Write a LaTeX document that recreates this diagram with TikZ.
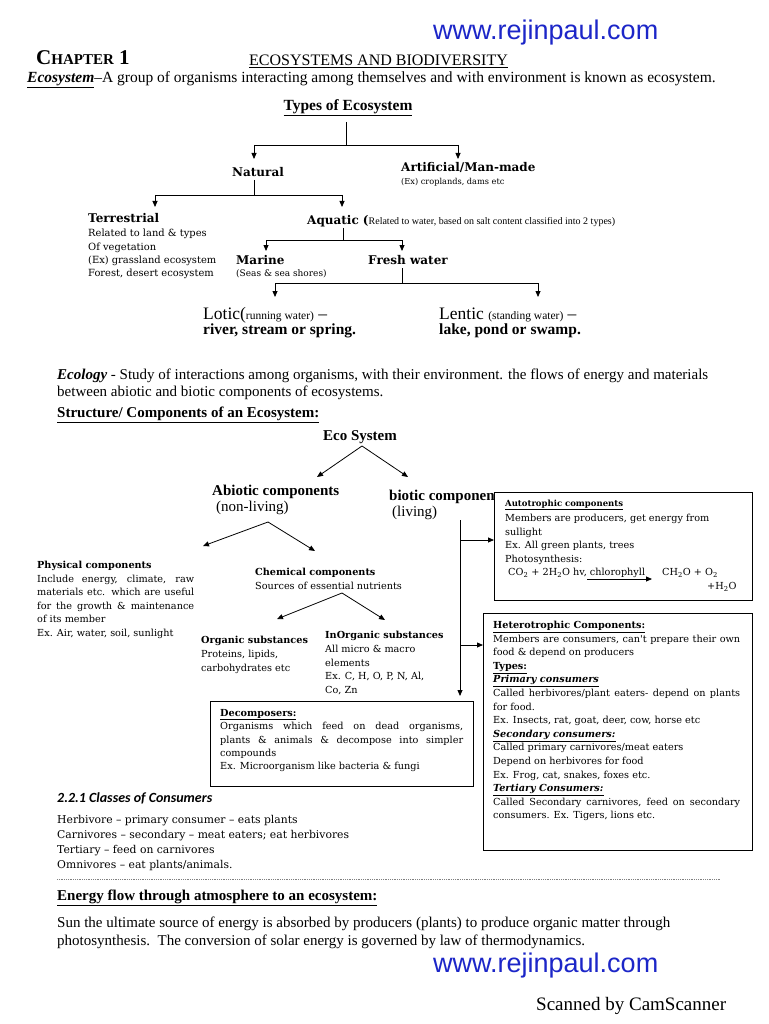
\documentclass[tikz,border=0pt]{standalone}
\usepackage{fontspec}
\setmainfont{Liberation Serif}
\newfontfamily\dvs{DejaVu Serif}
\newfontfamily\lsans{Liberation Sans}
\newfontfamily\carl{Carlito}
\usetikzlibrary{arrows.meta}
\definecolor{urlblue}{RGB}{28,38,200}
\newcommand\fsz[1]{\fontsize{#1}{#1}\selectfont}
\newcommand\fsl[2]{\fontsize{#1}{#2}\selectfont}
\tikzset{
  tx/.style={inner sep=0pt, anchor=west},
  txl/.style={inner sep=0pt, anchor=north west, align=left},
  ln/.style={line width=0.8pt},
  arr/.style={line width=0.8pt, -{Triangle[length=6pt,width=5pt]}},
  bx/.style={draw, line width=0.9pt, fill=white, anchor=north west, inner sep=0pt},
  lbl/.style={tx, font=\dvs\bfseries\fsz{12}},
}
\begin{document}
\begin{tikzpicture}[x=1pt,y=-1pt]
\fill[white] (0,0) rectangle (768,1024);
\useasboundingbox (0,0) rectangle (768,1024);

% header
\node[tx, font=\lsans\fsz{27}, text=urlblue] (url1) at (433,33) {www.rejinpaul.com};
\node[tx, font=\bfseries\fsz{21}] (chap) at (36,58) {C{\fsz{15}HAPTER} 1};
\node[tx, font=\fsz{16}] (ttl) at (249,61) {\underline{ECOSYSTEMS AND BIODIVERSITY}};
\node[tx, font=\fsz{15.5}] (def) at (27,80) {\underline{\textbf{\textit{Ecosystem}}}–A group of organisms interacting among themselves and with environment is known as ecosystem.};

% types of ecosystem tree
\node[inner sep=0pt, font=\bfseries\fsz{15.5}] (types) at (348,108) {\underline{Types of Ecosystem}};
\coordinate (a0) at (346,122); \coordinate (a1) at (346,145);
\coordinate (aL) at (254,145); \coordinate (aR) at (458,145);
\coordinate (aLt) at (254,159); \coordinate (aRt) at (458,159);
\draw[ln] (a0) -- (a1);
\draw[ln] (aL) -- (aR);
\draw[arr] (aL) -- (aLt);
\draw[arr] (aR) -- (aRt);

\node[lbl] (nat) at (232,172) {Natural};
\node[lbl] (art) at (401,167) {Artificial/Man-made};
\node[tx, font=\dvs\fsz{8.2}] (artd) at (401,182) {(Ex) croplands, dams etc};

\coordinate (b0) at (254,180); \coordinate (b1) at (254,195);
\coordinate (bL) at (155,195); \coordinate (bR) at (342,195);
\coordinate (bLt) at (155,207); \coordinate (bRt) at (342,207);
\draw[ln] (b0) -- (b1);
\draw[ln] (bL) -- (bR);
\draw[arr] (bL) -- (bLt);
\draw[arr] (bR) -- (bRt);

\node[lbl] (ter) at (88,218) {Terrestrial};
\node[txl, font=\dvs\fsl{9.9}{13.4}] (terd) at (88,229) {Related to land \& types\\Of vegetation\\(Ex) grassland ecosystem\\Forest, desert ecosystem};
\node[lbl] (aq) at (307,221) {Aquatic ({\rmfamily\mdseries\fsz{10}Related to water, based on salt content classified into 2 types)}};

\coordinate (c0) at (343,228); \coordinate (c1) at (343,240);
\coordinate (cL) at (266,240); \coordinate (cR) at (402,240);
\coordinate (cLt) at (266,251); \coordinate (cRt) at (402,251);
\draw[ln] (c0) -- (c1);
\draw[ln] (cL) -- (cR);
\draw[arr] (cL) -- (cLt);
\draw[arr] (cR) -- (cRt);

\node[lbl] (mar) at (236,260) {Marine};
\node[tx, font=\dvs\fsz{9}] (mard) at (236,274) {(Seas \& sea shores)};
\node[lbl] (fw) at (368,260) {Fresh water};

\coordinate (d0) at (402,268); \coordinate (d1) at (402,283);
\coordinate (dL) at (275,283); \coordinate (dR) at (538,283);
\coordinate (dLt) at (275,297); \coordinate (dRt) at (538,297);
\draw[ln] (d0) -- (d1);
\draw[ln] (dL) -- (dR);
\draw[arr] (dL) -- (dLt);
\draw[arr] (dR) -- (dRt);

\node[tx, font=\fsz{17.5}] (lot) at (203,315) {Lotic({\fsz{11.5}running water)} –};
\node[tx, font=\bfseries\fsz{15.5}] (lotb) at (203,331) {river, stream or spring.};
\node[tx, font=\fsz{17.5}] (len) at (439,315) {Lentic {\fsz{11.5}(standing water)} –};
\node[tx, font=\bfseries\fsz{15.5}] (lenb) at (439,331) {lake, pond or swamp.};

% ecology
\node[txl, font=\fsl{15}{17}] (ecol) at (57,369) {\textbf{\textit{Ecology}} - Study of interactions among organisms, with their environment. the flows of energy and materials\\between abiotic and biotic components of ecosystems.};
\node[tx, font=\bfseries\fsz{15}] (struct) at (57,415) {\underline{Structure/ Components of an Ecosystem:}};

% structure diagram
\node[inner sep=0pt, font=\bfseries\fsz{15}] (eco) at (360,437) {Eco System};
\coordinate (e0) at (362,446); \coordinate (abT) at (317,477); \coordinate (biT) at (408,477);
\draw[arr] (e0) -- (abT);
\draw[arr] (e0) -- (biT);

\node[tx, font=\bfseries\fsz{15}] (abio) at (212,492) {Abiotic components};
\node[tx, font=\fsz{15}] (abion) at (216,508) {(non-living)};
\node[tx, font=\bfseries\fsz{15}] (bio) at (389,497) {biotic componen};
\node[tx, font=\fsz{15}] (bion) at (392,513) {(living)};

\coordinate (f0) at (268,522); \coordinate (phT) at (203,546); \coordinate (chT) at (315,551);
\draw[arr] (f0) -- (phT);
\draw[arr] (f0) -- (chT);

\node[txl, font=\dvs\fsl{9.7}{13.6}] (phys) at (37,561) {\textbf{Physical components}\\\makebox[157pt][s]{Include energy, climate, raw}\\\makebox[157pt][s]{materials etc. which are useful}\\\makebox[157pt][s]{for the growth \& maintenance}\\of its member\\Ex. Air, water, soil, sunlight};
\node[txl, font=\dvs\fsl{9.7}{13.6}] (chem) at (255,568) {\textbf{Chemical components}\\Sources of essential nutrients};

\coordinate (g0) at (342,593); \coordinate (orT) at (277,619); \coordinate (inT) at (385,620);
\draw[arr] (g0) -- (orT);
\draw[arr] (g0) -- (inT);

\node[txl, font=\dvs\fsl{9.7}{14}] (org) at (201,636) {\textbf{Organic substances}\\Proteins, lipids,\\carbohydrates etc};
\node[txl, font=\dvs\fsl{9.7}{13.8}] (inorg) at (325,631) {\textbf{InOrganic substances}\\All micro \& macro\\elements\\Ex. C, H, O, P, N, Al,\\Co, Zn};

% boxes
\node[bx, minimum width=258pt, minimum height=108pt] (auto) at (494,492) {};
\node[tx, font=\dvs\bfseries\fsz{8.5}] (autoh) at (505,505) {\underline{Autotrophic components}};
\node[txl, font=\dvs\fsl{9.7}{13.5}] (autot) at (505,514) {Members are producers, get energy from\\sullight\\Ex. All green plants, trees\\Photosynthesis:};
\node[tx, font=\dvs\fsz{9.7}] (eq1) at (508,573) {CO\textsubscript{2} + 2H\textsubscript{2}O hv, chlorophyll};
\coordinate (q0) at (587,579); \coordinate (q1) at (652,579);
\draw[arr] (q0) -- (q1);
\node[tx, font=\dvs\fsz{9.7}] (eq2) at (662,573) {CH\textsubscript{2}O + O\textsubscript{2}};
\node[tx, font=\dvs\fsz{9.7}] (eq3) at (707,587) {+H\textsubscript{2}O};

\node[bx, minimum width=269pt, minimum height=237pt] (het) at (483,613) {};
\node[txl, font=\dvs\fsl{9.7}{13.6}] (hett) at (493,621) {\textbf{\underline{Heterotrophic Components:}}\\
\makebox[247pt][s]{Members are consumers, can't prepare their own}\\
food \& depend on producers\\
\textbf{\underline{Types:}}\\
\textbf{\textit{\underline{Primary consumers}}}\\
\makebox[247pt][s]{Called herbivores/plant eaters- depend on plants}\\
for food.\\
Ex. Insects, rat, goat, deer, cow, horse etc\\
\textbf{\textit{\underline{Secondary consumers:}}}\\
Called primary carnivores/meat eaters\\
Depend on herbivores for food\\
Ex. Frog, cat, snakes, foxes etc.\\
\textbf{\textit{\underline{Tertiary Consumers:}}}\\
\makebox[247pt][s]{Called Secondary carnivores, feed on secondary}\\
consumers. Ex. Tigers, lions etc.};

\node[bx, minimum width=263pt, minimum height=85pt] (dec) at (210,701) {};
\node[txl, font=\dvs\fsl{9.7}{13.4}] (dect) at (220,709) {\textbf{\underline{Decomposers:}}\\
\makebox[243pt][s]{Organisms which feed on dead organisms,}\\
\makebox[243pt][s]{plants \& animals \& decompose into simpler}\\
compounds\\
Ex. Microorganism like bacteria \& fungi};

% biotic connectors
\coordinate (v0) at (460,520); \coordinate (v1) at (460,540); \coordinate (v2) at (460,645);
\draw[arr, shorten >=5pt] (v0) -- (v0 |- dec.north);
\draw[arr] (v1) -- (v1 -| auto.west);
\draw[arr] (v2) -- (v2 -| het.west);

% classes
\node[tx, font=\carl\bfseries\itshape\fsz{14}] (cls) at (57,798) {2.2.1 Classes of Consumers};
\node[txl, font=\dvs\fsl{10.8}{15}] (clsl) at (57,815) {Herbivore – primary consumer – eats plants\\Carnivores – secondary – meat eaters; eat herbivores\\Tertiary – feed on carnivores\\Omnivores – eat plants/animals.};

\coordinate (dotL) at (57,879); \coordinate (dotR) at (720,879);
\draw[line width=0.6pt, gray, dash pattern=on 0.7pt off 1.1pt] (dotL) -- (dotR);

\node[tx, font=\bfseries\fsz{15}] (enh) at (57,898) {\underline{Energy flow through atmosphere to an ecosystem:}};
\node[txl, font=\fsl{15}{18}] (sun) at (57,917) {Sun the ultimate source of energy is absorbed by producers (plants) to produce organic matter through\\photosynthesis.\ \ The conversion of solar energy is governed by law of thermodynamics.};

\node[tx, font=\lsans\fsz{27}, text=urlblue] (url2) at (433,966) {www.rejinpaul.com};
\node[tx, font=\fsz{19}] (scan) at (536,1006) {Scanned by CamScanner};
\end{tikzpicture}
\end{document}
